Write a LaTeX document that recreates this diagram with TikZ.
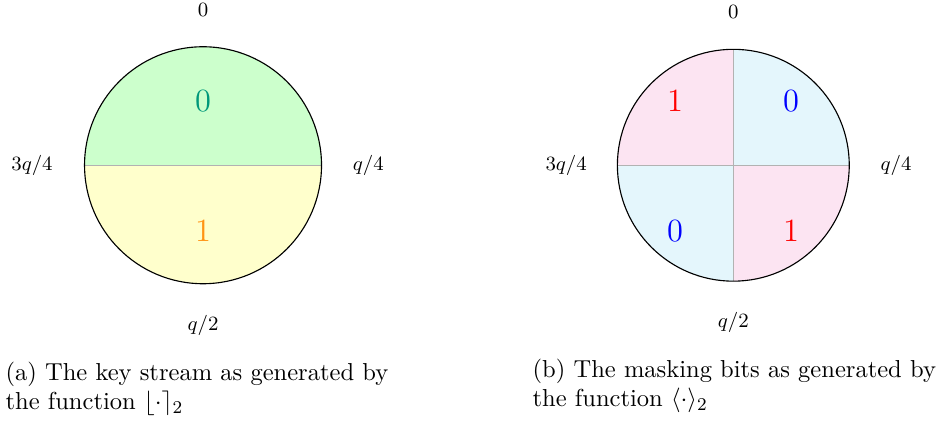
\documentclass[tikz,border=0pt]{standalone}
\usepackage{amsmath}
\usepackage{tikz}
\usetikzlibrary{positioning}
\definecolor{fillGreen}{HTML}{CCFFCC}
\definecolor{fillYellow}{HTML}{FFFFCC}
\definecolor{fillPink}{HTML}{FCE4F2}
\definecolor{fillBlue}{HTML}{E4F6FC}
\definecolor{bitGreen}{HTML}{00987A}
\definecolor{bitOrange}{HTML}{FF9414}
\begin{document}
\begin{tikzpicture}[
    tick/.style={font=\small},
    bit/.style={font=\Large},
    split/.style={draw=gray!60, line width=0.3pt},
    rim/.style={draw=black, line width=0.5pt},
    capt/.style={anchor=north west, text width=182pt, align=left, inner sep=0pt, font=\fontsize{10.9}{12.8}\selectfont},
  ]
    \useasboundingbox (-3.17,-4.00) rectangle (11.46,2.58);

    % (a) key stream
    \coordinate (ca) at (0,0);
    \fill[fillGreen]  (1.85,0) arc[start angle=0, end angle=180, radius=1.85] -- cycle;
    \fill[fillYellow] (-1.85,0) arc[start angle=180, end angle=360, radius=1.85] -- cycle;
    \draw[split] (-1.85,0) -- (1.85,0);
    \draw[rim] (ca) circle[radius=1.85];
    \node[bit, text=bitGreen]  (a0) at (0,1.0)   {0};
    \node[bit, text=bitOrange] (a1) at (0,-1.02) {1};
    \node[tick] (atop)   at (0,2.42)   {$0$};
    \node[tick] (aright) at (2.58,0)   {$q/4$};
    \node[tick] (abot)   at (0,-2.50)  {$q/2$};
    \node[tick] (aleft)  at (-2.67,0)  {$3q/4$};
    \node[capt] (capa) at (-3.09,-3.07) {(a) The key stream as generated by the function $\lfloor\cdot\rceil_2$};

    % (b) masking bits
    \coordinate (cb) at (8.28,0);
    \fill[fillBlue] (cb) -- ++(1.81,0) arc[start angle=0, end angle=90, radius=1.81] -- cycle;
    \fill[fillPink] (cb) -- ++(0,1.81) arc[start angle=90, end angle=180, radius=1.81] -- cycle;
    \fill[fillBlue] (cb) -- ++(-1.81,0) arc[start angle=180, end angle=270, radius=1.81] -- cycle;
    \fill[fillPink] (cb) -- ++(0,-1.81) arc[start angle=270, end angle=360, radius=1.81] -- cycle;
    \draw[split] ([xshift=-1.81cm]cb) -- ([xshift=1.81cm]cb);
    \draw[split] ([yshift=-1.81cm]cb) -- ([yshift=1.81cm]cb);
    \draw[rim] (cb) circle[radius=1.81];
    \node[bit, text=red]  (b1) at (7.37,1.0)   {1};
    \node[bit, text=blue] (b2) at (9.18,1.0)   {0};
    \node[bit, text=blue] (b3) at (7.37,-1.02) {0};
    \node[bit, text=red]  (b4) at (9.18,-1.02) {1};
    \node[tick] (btop)   at (8.28,2.39)  {$0$};
    \node[tick] (bright) at (10.82,0)    {$q/4$};
    \node[tick] (bbot)   at (8.28,-2.45) {$q/2$};
    \node[tick] (bleft)  at (5.67,0)     {$3q/4$};
    \node[capt] (capb) at (5.14,-3.02) {(b) The masking bits as generated by the function $\langle\cdot\rangle_2$};
  \end{tikzpicture}
\end{document}
